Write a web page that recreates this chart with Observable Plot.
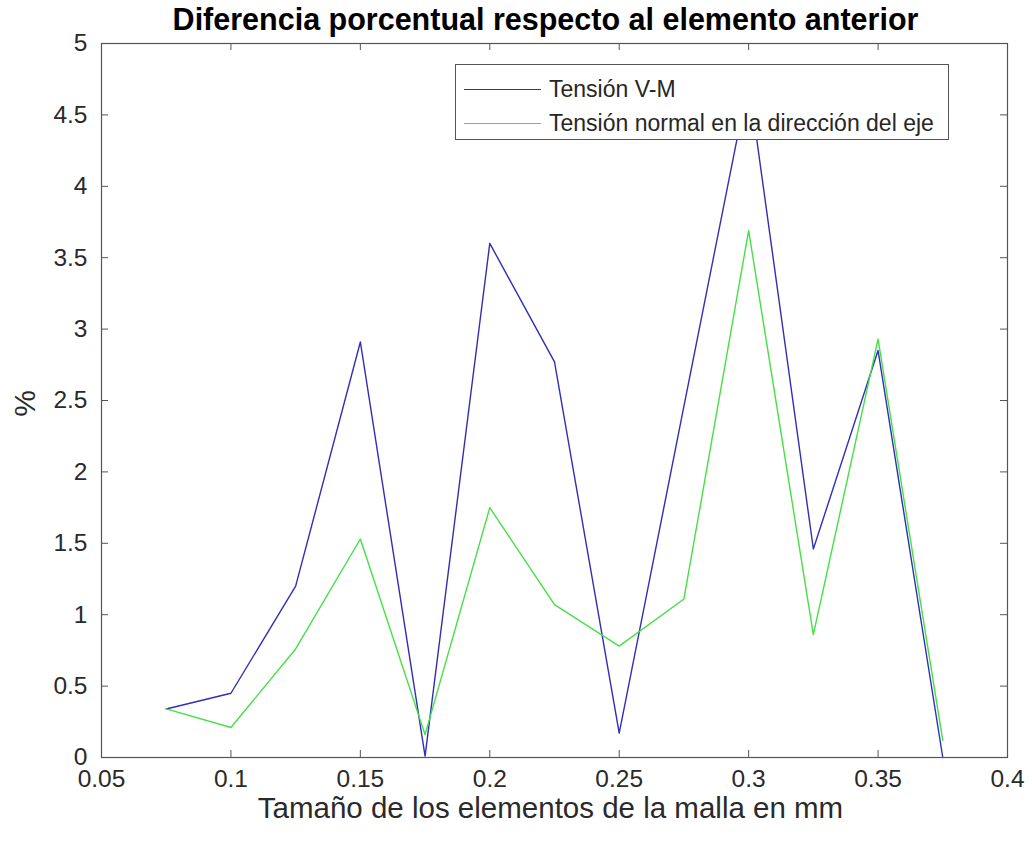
<!DOCTYPE html>
<html>
<head>
<meta charset="utf-8">
<script src="https://cdn.jsdelivr.net/npm/d3@7"></script>
<script src="https://cdn.jsdelivr.net/npm/@observablehq/plot@0.6"></script>
<style>
  body { margin: 0; background: white; }
  #wrap { position: relative; width: 1032px; height: 846px; font-family: "Liberation Sans", Arial, sans-serif; }
  #legend { position: absolute; left: 455px; top: 64px; width: 492px; height: 74px; border: 1px solid #555; background: white; box-sizing: content-box; }
  .row { position: absolute; left: 0; height: 30px; display: flex; align-items: center; font-size: 23px; color: #262626; white-space: nowrap; }
  .sw { width: 77px; height: 0; margin-left: 8px; margin-right: 8px; border-top: 1.3px solid; }
</style>
</head>
<body>
<div id="wrap"></div>
<script>
const sizes = [0.075, 0.1, 0.125, 0.15, 0.175, 0.2, 0.225, 0.25, 0.275, 0.3, 0.325, 0.35, 0.375];
const tensionVM = [0.34, 0.45, 1.20, 2.91, 0.01, 3.60, 2.77, 0.17, 2.46, 4.74, 1.46, 2.85, 0.0];
const tensionNormal = [0.34, 0.21, 0.76, 1.53, 0.16, 1.75, 1.07, 0.78, 1.11, 3.69, 0.86, 2.93, 0.12];
const seriesNames = ["Tensión V-M", "Tensión normal en la dirección del eje"];
const seriesColors = ["#2f2fb8", "#45e045"];
const xTicks = [0.05, 0.1, 0.15, 0.2, 0.25, 0.3, 0.35, 0.4];
const yTicks = [0, 0.5, 1, 1.5, 2, 2.5, 3, 3.5, 4, 4.5, 5];
const title = "Diferencia porcentual respecto al elemento anterior";
const xLabel = "Tamaño de los elementos de la malla en mm";
const yLabel = "%";

const table = [];
sizes.forEach((s, i) => {
  table.push({size: s, value: tensionVM[i], series: seriesNames[0]});
  table.push({size: s, value: tensionNormal[i], series: seriesNames[1]});
});

const W = 1032, H = 846, mL = 101, mR = 25, mT = 43, mB = 89;
const frameW = W - mL - mR, frameH = H - mT - mB;
const tickLen = 7;
const fmt = d => String(d);

const chart = Plot.plot({
  width: W, height: H,
  marginLeft: mL, marginRight: mR, marginTop: mT, marginBottom: mB,
  style: {fontFamily: "'Liberation Sans', Arial, sans-serif", fontSize: "24px", color: "#2a2a2a", background: "white"},
  x: {domain: [0.05, 0.4]},
  y: {domain: [0, 5]},
  color: {domain: seriesNames, range: seriesColors},
  marks: [
    Plot.line(table, {x: "size", y: "value", z: "series", stroke: "series", strokeWidth: 1.4}),
    Plot.frame({stroke: "#555", strokeWidth: 1.2}),
    Plot.tickX(xTicks, {x: d => d, stroke: "#555", insetTop: frameH - tickLen}),
    Plot.tickX(xTicks, {x: d => d, stroke: "#555", insetBottom: frameH - tickLen}),
    Plot.tickY(yTicks, {y: d => d, stroke: "#555", insetRight: frameW - tickLen}),
    Plot.tickY(yTicks, {y: d => d, stroke: "#555", insetLeft: frameW - tickLen}),
    Plot.axisX({ticks: xTicks, tickSize: 0, tickPadding: 12, tickFormat: fmt, label: null, fontSize: 24.5}),
    Plot.axisY({ticks: yTicks, tickSize: 0, tickPadding: 14, tickFormat: fmt, label: null, fontSize: 24.5}),
    Plot.text([title], {frameAnchor: "top", lineAnchor: "middle", textAnchor: "middle", dy: -23, dx: -9, fontWeight: "bold", fontSize: 30.5, fill: "#000"}),
    Plot.text([xLabel], {frameAnchor: "bottom", lineAnchor: "middle", textAnchor: "middle", dy: 51, dx: -4, fontSize: 29.5, fill: "#2a2a2a"}),
    Plot.text([yLabel], {frameAnchor: "left", lineAnchor: "middle", textAnchor: "middle", dx: -76, dy: 3, rotate: -90, fontSize: 30, fill: "#2a2a2a"})
  ]
});

const wrap = document.getElementById("wrap");
wrap.appendChild(chart);

const legend = document.createElement("div");
legend.id = "legend";
seriesNames.forEach((name, i) => {
  const row = document.createElement("div");
  row.className = "row";
  row.style.top = (9 + i * 34) + "px";
  const sw = document.createElement("span");
  sw.className = "sw";
  sw.style.borderTopColor = seriesColors[i];
  const t = document.createElement("span");
  t.textContent = name;
  row.appendChild(sw);
  row.appendChild(t);
  legend.appendChild(row);
});
wrap.appendChild(legend);
</script>
</body>
</html>
